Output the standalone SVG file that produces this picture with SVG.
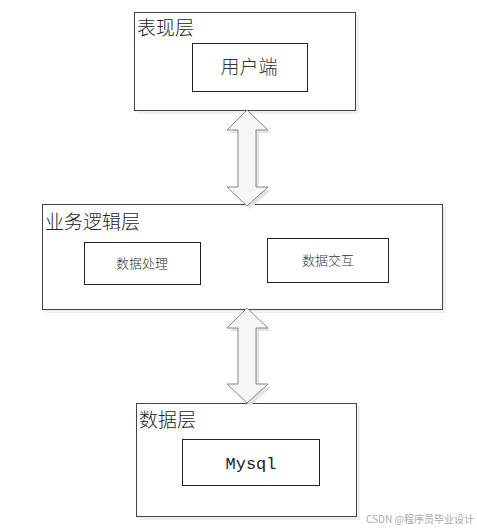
<svg xmlns="http://www.w3.org/2000/svg" width="477" height="530" viewBox="0 0 477 530">
<defs>
<style>
.layer{fill:#fff;stroke:#444;stroke-width:1}
.shadow{fill:#eeeeee}
.box{fill:#fff;stroke:#222;stroke-width:1}
.title{font-family:"Noto Sans CJK SC","Liberation Sans",sans-serif;font-size:19px;fill:#222;font-weight:300}
.lbl{font-family:"Noto Sans CJK SC","Liberation Sans",sans-serif;font-size:13px;fill:#333;font-weight:300;text-anchor:middle}
.arrow{fill:#f6f6f6;stroke:#888;stroke-width:1}
.ashadow{fill:#e2e2e2}
</style>
</defs>
<rect width="477" height="530" fill="#fff"/>
<g id="presentation">
<rect class="shadow" x="137" y="15" width="222" height="99"/>
<rect class="layer" x="134.5" y="12.5" width="221" height="98"/>
<text class="title" x="137" y="35">表现层</text>
<g id="client">
<rect class="box" x="192.5" y="43.5" width="115" height="48"/>
<text class="lbl" x="249" y="74" style="font-size:19px">用户端</text>
</g>
</g>
<g id="business">
<rect class="shadow" x="45" y="207" width="401" height="106"/>
<rect class="layer" x="42.5" y="204.5" width="400" height="105"/>
<text class="title" x="45" y="229">业务逻辑层</text>
<g id="process">
<rect class="box" x="84.5" y="242.5" width="116" height="42"/>
<text class="lbl" x="142" y="268">数据处理</text>
</g>
<g id="interact">
<rect class="box" x="267.5" y="238.5" width="121" height="44"/>
<text class="lbl" x="328" y="265">数据交互</text>
</g>
</g>
<g id="data">
<rect class="shadow" x="139" y="406" width="221" height="114"/>
<rect class="layer" x="136.5" y="403.5" width="220" height="113"/>
<text class="title" x="139" y="427">数据层</text>
<g id="mysql">
<rect class="box" x="182.5" y="439.5" width="137" height="46"/>
<text x="251" y="469" style="font-family:'Liberation Mono',monospace;font-size:17px;fill:#222;text-anchor:middle">Mysql</text>
</g>
</g>
<g id="connectors">
<path class="ashadow" d="M250,113 L271,133 L259,133 L259,190 L271,190 L250,209 L230,190 L241,190 L241,133 L230,133 Z"/>
<path class="arrow" d="M247,110 L268,130 L256,130 L256,187 L268,187 L247,206 L227,187 L238,187 L238,130 L227,130 Z"/>
<path class="ashadow" d="M250,311 L271,331 L259,331 L259,387 L271,387 L250,406 L230,387 L241,387 L241,331 L230,331 Z"/>
<path class="arrow" d="M247,308 L268,328 L256,328 L256,384 L268,384 L247,403 L227,384 L238,384 L238,328 L227,328 Z"/>
</g>
<text x="366" y="523" style="font-family:'Noto Sans CJK SC','Liberation Sans',sans-serif;font-size:10px;fill:#aaa">CSDN @程序员毕业设计</text>
</svg>
